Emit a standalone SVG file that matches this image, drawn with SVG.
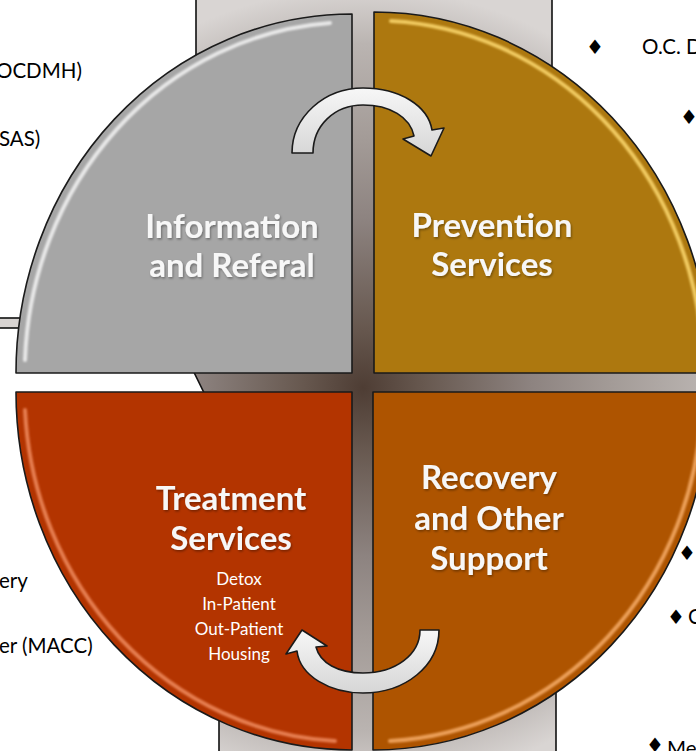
<svg xmlns="http://www.w3.org/2000/svg" width="696" height="751" viewBox="0 0 696 751">
<defs>
  <radialGradient id="bg" gradientUnits="userSpaceOnUse" cx="363" cy="388" r="400">
    <stop offset="0" stop-color="#4e3d34"/>
    <stop offset="0.15" stop-color="#67584f"/>
    <stop offset="0.42" stop-color="#8d8380"/>
    <stop offset="0.62" stop-color="#a39b97"/>
    <stop offset="0.86" stop-color="#bab4b1"/>
    <stop offset="1" stop-color="#d9d5d3"/>
  </radialGradient>
  <linearGradient id="arrowFill" x1="0" y1="0" x2="0" y2="1">
    <stop offset="0" stop-color="#f7f7f7"/>
    <stop offset="1" stop-color="#d6d6d6"/>
  </linearGradient>
  <filter id="soft" x="-10%" y="-10%" width="120%" height="120%">
    <feGaussianBlur stdDeviation="1"/>
  </filter>
  <filter id="tshadow" x="-10%" y="-20%" width="120%" height="140%">
    <feDropShadow dx="1" dy="1.5" stdDeviation="1" flood-color="#000" flood-opacity="0.35"/>
  </filter>
</defs>
<style>
  .q { stroke:#1a1a1a; stroke-width:1.6; stroke-linejoin:round }
  .hl { fill:none; stroke-width:4; stroke-linecap:round; filter:url(#soft) }
  .lbl { font-family:Lato, "Open Sans", "Liberation Sans", sans-serif; font-weight:700; font-size:33px; fill:#f7f7f7; text-anchor:middle; filter:url(#tshadow) }
  .sub { font-family:Lato, "Open Sans", "Liberation Sans", sans-serif; font-size:17px; fill:#ffffff; text-anchor:middle }
  .side { font-family:Lato, "Open Sans", "Liberation Sans", sans-serif; font-size:20.5px; fill:#000000 }
  .bul { font-family:"DejaVu Sans", sans-serif; font-size:20px; fill:#000000; text-anchor:middle }
  .arrow { fill:url(#arrowFill); stroke:#1a1a1a; stroke-width:1.6; stroke-linejoin:round }
</style>

<g id="background">
  <path d="M196,-5 L552,-5 L552,355 L705,355 L705,410 L556,410 L556,760 L219,760 L219,410 L210,405 L188,360 L196,355 Z" fill="url(#bg)" stroke="#111" stroke-width="1.6"/>
  <rect x="-5" y="318" width="25" height="10" fill="#d8d4d2" stroke="#111" stroke-width="1.6"/>
</g>

<g id="side-text">
  <text class="side" x="-4" y="78">OCDMH)</text>
  <text class="side" x="-1" y="146">SAS)</text>
  <text class="side" x="-1" y="588">ery</text>
  <text class="side" x="-1" y="653">er (MACC)</text>
  <text class="bul" x="595" y="54">♦</text>
  <text class="side" x="642" y="54">O.C. D</text>
  <text class="bul" x="689" y="124">♦</text>
  <text class="bul" x="687" y="560">♦</text>
  <text class="bul" x="676" y="624">♦</text>
  <text class="side" x="688" y="624">C</text>
  <text class="bul" x="655" y="752">♦</text>
  <text class="side" x="667" y="756">Me</text>
</g>

<g id="node-information">
  <path class="q" d="M352,373 L16,373 A336,359 0 0 1 352,14 Z" fill="#a6a6a6"/>
  <path class="hl" d="M25,360 A328,351 0 0 1 330,23" stroke="#ffffff" stroke-opacity="0.75"/>
  <path class="hl" d="M343,30 L343,357" stroke="#ffffff" stroke-opacity="0.95"/>
  <text class="lbl" x="232" y="238">Information</text>
  <text class="lbl" x="232" y="277">and Referal</text>
</g>

<g id="node-prevention">
  <path class="q" d="M374,373 L374,12 A337,361 0 0 1 711,373 Z" fill="#ad780f"/>
  <path class="hl" d="M391,21 A329,353 0 0 1 702,342" stroke="#f8d46a" stroke-opacity="0.9"/>
  <path class="hl" d="M390,364 L700,364" stroke="#f8d46a" stroke-opacity="0.9"/>
  <text class="lbl" x="492" y="237">Prevention</text>
  <text class="lbl" x="492" y="276">Services</text>
</g>

<g id="node-treatment">
  <path class="q" d="M352,392 L352,750 A336,358 0 0 1 16,392 Z" fill="#b33400"/>
  <path class="hl" d="M26,401 L338,401" stroke="#f29064" stroke-opacity="0.9"/>
  <path class="hl" d="M335,741 A328,350 0 0 1 25,410" stroke="#f29064" stroke-opacity="0.8"/>
  <text class="lbl" x="231" y="510">Treatment</text>
  <text class="lbl" x="231" y="550">Services</text>
  <text class="sub" x="239" y="585">Detox</text>
  <text class="sub" x="239" y="610">In-Patient</text>
  <text class="sub" x="239" y="635">Out-Patient</text>
  <text class="sub" x="239" y="660">Housing</text>
</g>

<g id="node-recovery">
  <path class="q" d="M373,392 L710,392 A337,358 0 0 1 373,750 Z" fill="#ae5400"/>
  <path class="hl" d="M381,406 L381,740" stroke="#f7ad68" stroke-opacity="0.9"/>
  <path class="hl" d="M702,404 A329,350 0 0 1 390,741" stroke="#f7ad68" stroke-opacity="0.85"/>
  <text class="lbl" x="489" y="489">Recovery</text>
  <text class="lbl" x="489" y="530">and Other</text>
  <text class="lbl" x="489" y="570">Support</text>
</g>

<g id="connectors">
  <path class="arrow" d="M292,153 C292,117 324,88 363,88 C400,88 428,106 432,130 L444,128 L431,156 L403,139 L414,136 C410,117 390,105 363,105 C334,105 313,126 313,153 Z"/>
  <path class="arrow" d="M439,630 C439,666 405,693 363,693 C330,693 300,676 297,651 L286,654 L302,630 L327,646 L316,647 C320,663 338,673 363,673 C395,673 420,655 420,630 Z"/>
</g>
</svg>
